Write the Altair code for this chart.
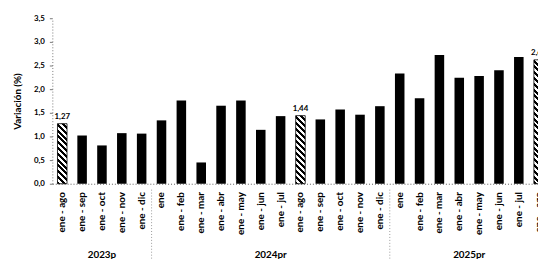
import altair as alt
import pandas as pd

# ---- data ----
years = ["2023p"] * 5 + ["2024pr"] * 12 + ["2025pr"] * 8
periods = [
    "ene - ago", "ene - sep", "ene - oct", "ene - nov", "ene - dic",
    "ene", "ene - feb", "ene - mar", "ene - abr", "ene - may", "ene - jun",
    "ene - jul", "ene - ago", "ene - sep", "ene - oct", "ene - nov", "ene - dic",
    "ene", "ene - feb", "ene - mar", "ene - abr", "ene - may", "ene - jun",
    "ene - jul", "ene - ago",
]
values = [
    1.27, 1.02, 0.81, 1.07, 1.06,
    1.34, 1.76, 0.45, 1.65, 1.76, 1.14, 1.43, 1.44, 1.36, 1.57, 1.46, 1.64,
    2.33, 1.81, 2.72, 2.24, 2.28, 2.40, 2.68, 2.62,
]
hatched = [
    True, False, False, False, False,
    False, False, False, False, False, False, False, True, False, False, False, False,
    False, False, False, False, False, False, False, True,
]
y_ticks = [0, 0.5, 1.0, 1.5, 2.0, 2.5, 3.0, 3.5]

df = pd.DataFrame({"anio": years, "periodo": periods, "valor": values, "rayado": hatched})
df["idx"] = range(len(df))
df["clave"] = df["anio"] + "|" + df["periodo"]
order = list(df["clave"])

# ---- layout / style ----
STEP = 20.15
N = len(df)
R = STEP * N          # band range (extends past the visible view, clipped like the scan)
W = 493               # visible plot width
H = 168
FONT = "Lato"
PX_PER_UNIT = H / 3.5


def hatch(v):
    w = STEP * 0.48
    h = max(v * PX_PER_UNIT, 1)
    n = max(int(round((w + h) / 6.0)), 2)
    stops = []
    for i in range(n):
        a, b, c = i / n, (i + 0.5) / n, (i + 1) / n
        stops += [
            {"offset": a, "color": "black"}, {"offset": b, "color": "black"},
            {"offset": b, "color": "white"}, {"offset": c, "color": "white"},
        ]
    gx = w / h
    s = (1 + gx) / (1 + gx * gx)
    return {"gradient": "linear", "x1": 0, "y1": 1, "x2": gx * s, "y2": 1 - s, "stops": stops}


x = alt.X(
    "clave:N", sort=order,
    scale=alt.Scale(range=[0, R], paddingInner=0.52, paddingOuter=0.26),
    axis=alt.Axis(
        title=None, labelAngle=-90, ticks=False, labelPadding=8,
        labelExpr="split(datum.label, '|')[1]",
        domain=True, domainColor="#555", domainDash=[1, 2], domainWidth=1,
        labelFont=FONT, labelFontSize=10, labelFontWeight="bold", labelColor="black",
    ),
)
y = alt.Y(
    "valor:Q", scale=alt.Scale(domain=[0, 3.5]),
    axis=alt.Axis(
        title="Variación (%)", values=y_ticks,
        labelExpr="replace(format(datum.value, '.1f'), '.', ',')",
        grid=False, tickSize=3, tickColor="#777", labelPadding=5,
        domain=True, domainColor="#777", domainDash=[1, 2],
        labelFont=FONT, labelFontSize=8, labelFontWeight="bold", labelColor="black",
        titleFont=FONT, titleFontSize=10, titleFontWeight="bold", titleColor="black",
        titlePadding=11,
    ),
)

base = alt.Chart(df)
layers = [base.mark_bar(color="black").encode(x=x, y=y).transform_filter("!datum.rayado")]
for k in df.index[df["rayado"]]:
    layers.append(
        base.mark_bar(color=hatch(df.loc[k, "valor"]), stroke="black", strokeWidth=0.8)
        .encode(x=x, y=y)
        .transform_filter(f"datum.idx == {k}")
    )
layers.append(
    base.mark_text(dy=-3, font=FONT, fontSize=8, fontWeight="bold", color="black", baseline="bottom")
    .encode(x=x, y=y, text="etiqueta:N")
    .transform_filter("datum.rayado")
    .transform_calculate(etiqueta="replace(format(datum.valor, '.2f'), '.', ',')")
)
bars = alt.layer(*layers)

# group (year) labels and separators on a positional index scale aligned with the bands
xq = alt.Scale(domain=[-0.5, N - 0.5], range=[0, R], nice=False, zero=False)
groups = (
    base.transform_aggregate(centro="mean(idx)", inicio="min(idx)", groupby=["anio"])
)
group_text = groups.mark_text(
    font=FONT, fontSize=10, fontWeight="bold", color="black", baseline="middle"
).encode(
    x=alt.X("centro:Q", scale=xq, axis=None),
    y=alt.value(H + 72),
    text="anio:N",
)
separators = groups.transform_calculate(borde="datum.inicio - 0.5").transform_filter(
    "datum.borde > 0"
).mark_rule(color="#999", strokeDash=[1, 2], strokeWidth=1).encode(
    x=alt.X("borde:Q", scale=xq, axis=None),
    y=alt.value(H + 6),
    y2=alt.value(H + 78),
)

chart = (
    alt.layer(bars, separators, group_text)
    .resolve_scale(x="independent")
    .properties(
        width=W, height=H,
        autosize=alt.AutoSizeParams(type="none"),
        padding={"left": 45, "top": 8.5, "right": 0, "bottom": 74},
        background="white",
    )
    .configure_view(stroke=None)
)

chart.save("out.html", embed_options={"renderer": "svg", "actions": False})
